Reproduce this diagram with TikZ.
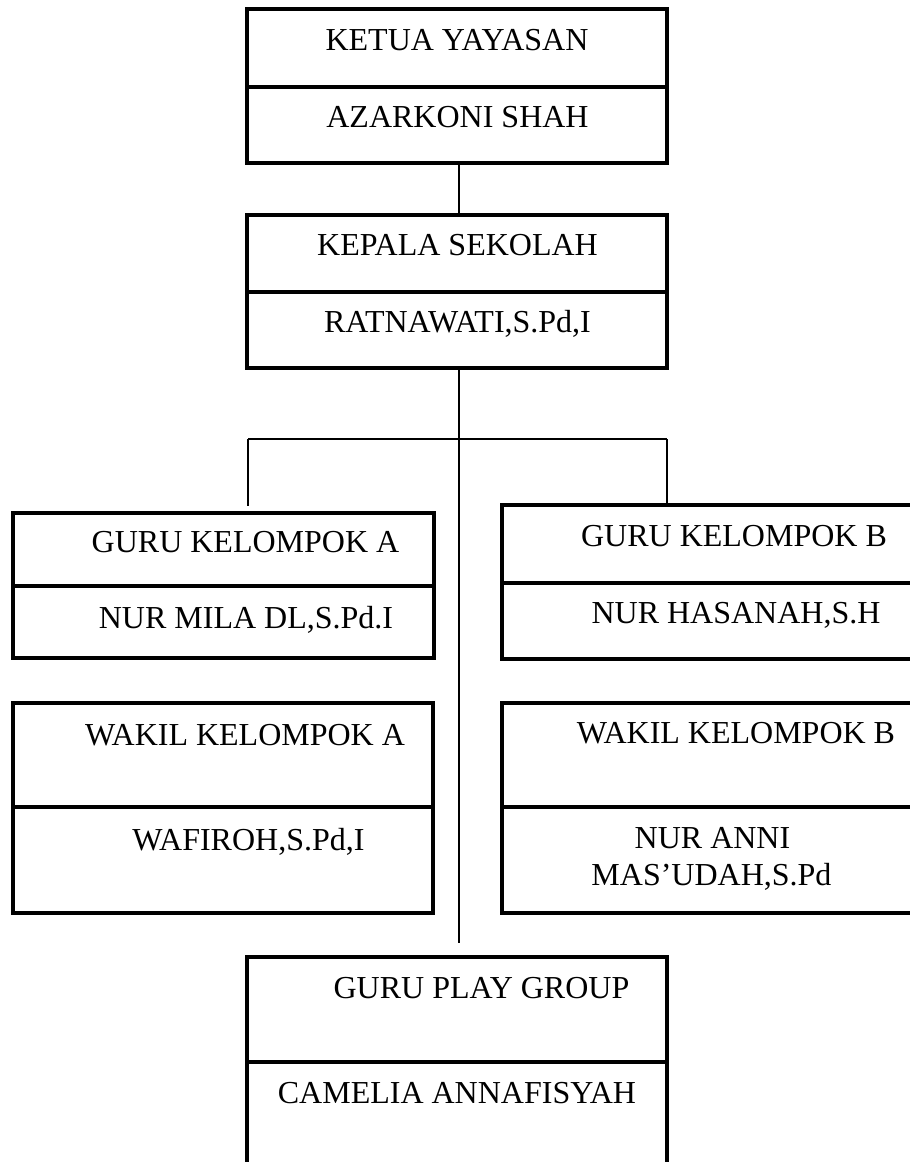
\documentclass[tikz,border=0pt]{standalone}
\usepackage{fontspec}
\setmainfont{Liberation Serif}
\begin{document}
\begin{tikzpicture}[x=1pt,y=-1pt,
  part/.style={draw=black,line width=3.2pt,inner sep=0pt,outer sep=0pt,rectangle},
  lbl/.style={inner sep=0pt,anchor=base,font=\fontsize{32}{38}\selectfont},
  conn/.style={draw=black,line width=1.6pt}]
\useasboundingbox (0,0) rectangle (910,1162);
% boxes
\node[part,minimum width=420pt,minimum height=78pt] (ketuaT) at (457,48) {};
\node[part,minimum width=420pt,minimum height=76pt] (ketuaB) at (457,125) {};
\node[part,minimum width=420pt,minimum height=77pt] (kepalaT) at (457,253.5) {};
\node[part,minimum width=420pt,minimum height=76pt] (kepalaB) at (457,330) {};
\node[part,minimum width=421pt,minimum height=73pt] (guruAT) at (223.5,549.5) {};
\node[part,minimum width=421pt,minimum height=72pt] (guruAB) at (223.5,622) {};
\node[part,minimum width=418pt,minimum height=78pt] (guruBT) at (711,544) {};
\node[part,minimum width=418pt,minimum height=76pt] (guruBB) at (711,621) {};
\node[part,minimum width=420pt,minimum height=104pt] (wakilAT) at (223,755) {};
\node[part,minimum width=420pt,minimum height=106pt] (wakilAB) at (223,860) {};
\node[part,minimum width=418pt,minimum height=104pt] (wakilBT) at (711,755) {};
\node[part,minimum width=418pt,minimum height=106pt] (wakilBB) at (711,860) {};
\node[part,minimum width=420pt,minimum height=105pt] (playT) at (457,1009.5) {};
\node[part,minimum width=420pt,minimum height=118pt] (playB) at (457,1121) {};
% texts
\node[lbl] (t1) at (457,50) {KETUA YAYASAN};
\node[lbl] (t2) at (457.5,127) {AZARKONI SHAH};
\node[lbl] (t3) at (457.5,255) {KEPALA SEKOLAH};
\node[lbl] (t4) at (457.5,332) {RATNAWATI,S.Pd,I};
\node[lbl] (t5) at (245.5,552) {GURU KELOMPOK A};
\node[lbl] (t6) at (246,628) {NUR MILA DL,S.Pd.I};
\node[lbl] (t7) at (734,546) {GURU KELOMPOK B};
\node[lbl] (t8) at (736,623) {NUR HASANAH,S.H};
\node[lbl] (t9) at (245,745) {WAKIL KELOMPOK A};
\node[lbl] (t10) at (248.5,850) {WAFIROH,S.Pd,I};
\node[lbl] (t11) at (736,743) {WAKIL KELOMPOK B};
\node[lbl] (t12) at (712.5,848) {NUR ANNI};
\node[lbl] (t13) at (711.5,885) {MAS’UDAH,S.Pd};
\node[lbl] (t14) at (481.5,998) {GURU PLAY GROUP};
\node[lbl] (t15) at (457,1103) {CAMELIA ANNAFISYAH};
% connector coordinates
\coordinate (mtop) at (459,368);
\coordinate (mend) at (459,943);
\coordinate (hl) at (248,439);
\coordinate (hr) at (667,439);
\coordinate (la) at (248,506);
% connectors
\draw[conn] (ketuaB.south -| mtop) -- (kepalaT.north -| mtop);
\draw[conn] (kepalaB.south -| mtop) -- (mend);
\draw[conn] (hl) -- (hr);
\draw[conn] (hl) -- (la);
\draw[conn] (hr) -- (hr |- guruBT.north);
\end{tikzpicture}
\end{document}
